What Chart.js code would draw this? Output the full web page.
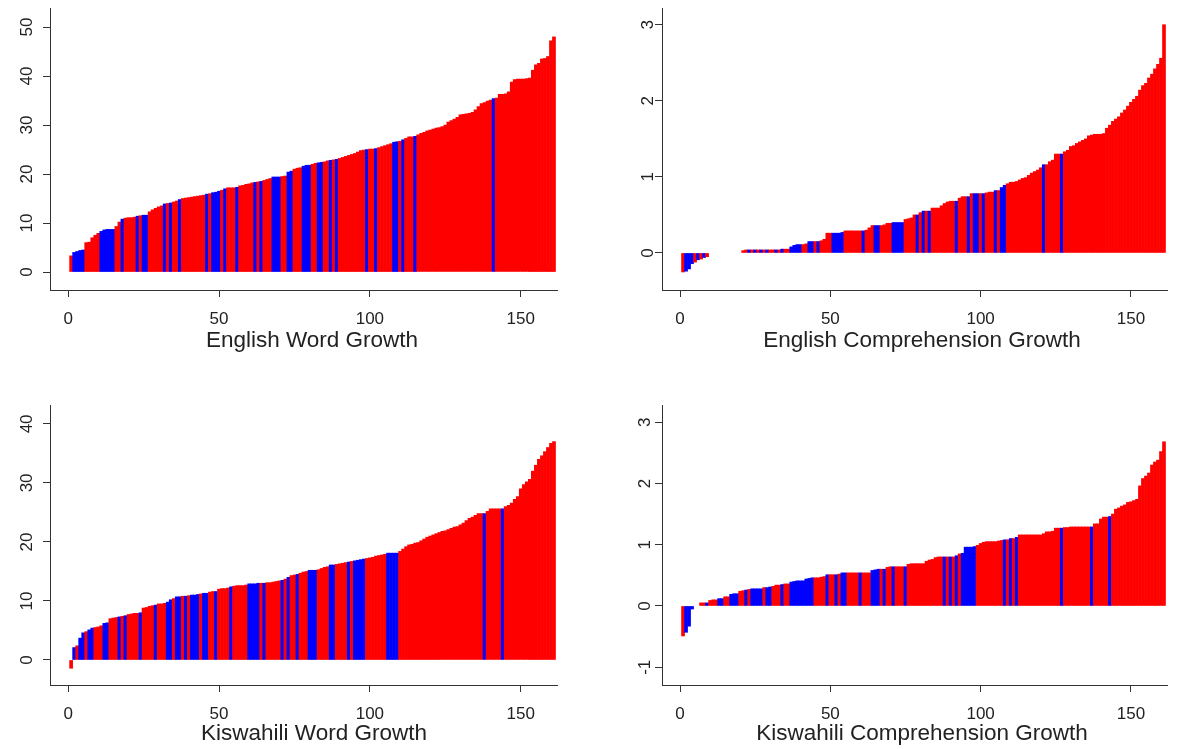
<!DOCTYPE html>
<html>
<head>
<meta charset="utf-8">
<script src="https://cdn.jsdelivr.net/npm/chart.js@4.4.1/dist/chart.umd.min.js"></script>
<style>
  body { margin: 0; background: #fff; width: 1184px; height: 749px; position: relative; overflow: hidden; font-family: Arial, "Liberation Sans", sans-serif; }
  canvas { position: absolute; }
  .titulo { position: absolute; font-size: 22.5px; color: #222; transform: translateX(-50%); white-space: nowrap; line-height: 26px; }
</style>
</head>
<body>
<canvas id="c1" width="592" height="374" style="left:0;top:0"></canvas>
<canvas id="c2" width="592" height="374" style="left:592px;top:0"></canvas>
<canvas id="c3" width="592" height="375" style="left:0;top:374px"></canvas>
<canvas id="c4" width="592" height="375" style="left:592px;top:374px"></canvas>
<div class="titulo" style="left:312px;top:327px">English Word Growth</div>
<div class="titulo" style="left:922px;top:327px">English Comprehension Growth</div>
<div class="titulo" style="left:314px;top:720px">Kiswahili Word Growth</div>
<div class="titulo" style="left:922px;top:720px">Kiswahili Comprehension Growth</div>
<script>
// Datos (valores ordenados por rango 1..161; null = sin barra)
const ingPalabras = [
    3.3, 4.0, 4.2, 4.4, 4.5, 6.0, 6.1, 7.0, 7.5, 7.9,
    8.3, 8.6, 8.7, 8.7, 8.7, 9.3, 10.2, 10.8, 11.0, 11.1,
    11.1, 11.2, 11.4, 11.5, 11.6, 11.6, 12.3, 12.7, 13.0, 13.3,
    13.5, 13.9, 14.0, 14.1, 14.3, 14.5, 14.8, 15.0, 15.1, 15.2,
    15.3, 15.4, 15.5, 15.6, 15.7, 15.9, 16.0, 16.2, 16.3, 16.5,
    16.7, 17.0, 17.2, 17.2, 17.2, 17.3, 17.6, 17.7, 17.9, 18.0,
    18.2, 18.3, 18.4, 18.5, 18.7, 18.9, 19.1, 19.4, 19.4, 19.4,
    19.5, 19.6, 20.4, 20.6, 21.0, 21.2, 21.3, 21.6, 21.8, 21.8,
    22.0, 22.2, 22.3, 22.4, 22.5, 22.7, 22.8, 22.9, 23.0, 23.2,
    23.4, 23.6, 23.8, 24.0, 24.2, 24.5, 24.8, 24.9, 25.0, 25.1,
    25.1, 25.2, 25.4, 25.6, 25.8, 26.0, 26.2, 26.5, 26.6, 26.7,
    27.0, 27.3, 27.6, 27.6, 27.7, 28.0, 28.3, 28.5, 28.8, 29.0,
    29.2, 29.4, 29.5, 29.7, 30.0, 30.6, 30.9, 31.2, 31.6, 32.1,
    32.2, 32.3, 32.4, 32.6, 33.1, 33.8, 34.4, 34.6, 34.9, 35.1,
    35.4, 35.5, 36.3, 36.3, 36.4, 36.8, 38.8, 39.3, 39.4, 39.4,
    39.4, 39.5, 39.6, 41.2, 42.3, 42.6, 43.5, 43.6, 44.0, 47.2,
    48.0
];
const ingPalabrasAzul = [2, 3, 4, 5, 11, 12, 13, 14, 15, 18, 23, 25, 26, 32, 34, 37, 46, 48, 49, 50, 52,
    56, 62, 64, 68, 69, 70, 73, 74, 78, 79, 80, 83, 84, 87, 89, 99, 102, 108, 109, 111, 115, 141];

const ingComprension = [
    -0.25, -0.24, -0.21, -0.14, -0.12, -0.09, -0.08, -0.06, -0.05, null,
    null, null, null, null, null, null, null, null, null, null,
    0.03, 0.04, 0.04, 0.04, 0.04, 0.04, 0.04, 0.04, 0.04, 0.04,
    0.04, 0.04, 0.04, 0.05, 0.05, 0.05, 0.08, 0.10, 0.11, 0.11,
    0.11, 0.12, 0.15, 0.15, 0.15, 0.15, 0.16, 0.18, 0.26, 0.26,
    0.26, 0.26, 0.26, 0.27, 0.29, 0.29, 0.29, 0.29, 0.29, 0.29,
    0.29, 0.30, 0.33, 0.36, 0.36, 0.36, 0.36, 0.37, 0.39, 0.39,
    0.40, 0.40, 0.40, 0.40, 0.44, 0.45, 0.46, 0.50, 0.50, 0.53,
    0.55, 0.55, 0.55, 0.59, 0.59, 0.59, 0.62, 0.65, 0.67, 0.68,
    0.68, 0.68, 0.72, 0.74, 0.74, 0.74, 0.78, 0.78, 0.78, 0.78,
    0.78, 0.79, 0.80, 0.80, 0.82, 0.82, 0.86, 0.89, 0.91, 0.93,
    0.93, 0.94, 0.96, 0.98, 0.99, 1.02, 1.05, 1.07, 1.09, 1.12,
    1.16, 1.16, 1.20, 1.22, 1.30, 1.30, 1.30, 1.33, 1.35, 1.40,
    1.41, 1.44, 1.46, 1.48, 1.50, 1.54, 1.55, 1.56, 1.56, 1.56,
    1.57, 1.64, 1.68, 1.73, 1.76, 1.79, 1.84, 1.88, 1.93, 1.98,
    2.02, 2.06, 2.14, 2.20, 2.23, 2.30, 2.35, 2.42, 2.48, 2.56,
    3.00
];
const ingComprensionAzul = [2, 3, 4, 6, 8, 23, 25, 27, 29, 32, 34, 37, 38, 39, 40, 43, 44, 46, 51, 52, 53, 54,
    61, 65, 66, 71, 72, 73, 74, 79, 81, 83, 92, 96, 98, 99, 101, 105, 107, 108, 121, 127];

const kisPalabras = [
    -1.4, 2.1, 2.4, 3.7, 4.6, 4.8, 5.1, 5.4, 5.5, 5.6,
    5.8, 6.2, 6.3, 7.0, 7.1, 7.2, 7.3, 7.4, 7.5, 7.7,
    7.8, 7.9, 7.9, 8.0, 8.8, 8.9, 9.1, 9.2, 9.3, 9.5,
    9.5, 9.6, 9.8, 10.2, 10.4, 10.7, 10.7, 10.8, 10.8, 10.9,
    11.0, 11.0, 11.1, 11.2, 11.3, 11.3, 11.5, 11.6, 11.6, 12.0,
    12.1, 12.1, 12.2, 12.4, 12.5, 12.6, 12.6, 12.6, 12.7, 12.9,
    12.9, 12.9, 13.0, 13.0, 13.0, 13.1, 13.1, 13.2, 13.3, 13.4,
    13.5, 13.7, 14.0, 14.3, 14.4, 14.5, 14.7, 14.9, 15.0, 15.2,
    15.2, 15.2, 15.3, 15.5, 15.7, 15.8, 16.1, 16.1, 16.2, 16.3,
    16.4, 16.5, 16.6, 16.7, 16.8, 16.9, 17.0, 17.1, 17.2, 17.3,
    17.4, 17.6, 17.7, 17.8, 17.9, 18.1, 18.1, 18.1, 18.1, 18.4,
    18.8, 19.2, 19.5, 19.6, 19.8, 19.9, 20.2, 20.5, 20.8, 21.0,
    21.2, 21.4, 21.6, 21.8, 21.9, 22.1, 22.3, 22.5, 22.6, 22.9,
    23.2, 23.6, 24.0, 24.2, 24.5, 24.8, 24.8, 24.8, 25.2, 25.6,
    25.6, 25.6, 25.6, 25.6, 26.0, 26.2, 26.6, 27.2, 27.7, 29.0,
    29.7, 30.2, 30.6, 32.0, 33.0, 34.0, 34.6, 35.3, 36.0, 36.7,
    37.0
];
const kisPalabrasAzul = [2, 4, 5, 7, 8, 12, 13, 17, 19, 24, 29, 33, 34, 36, 37, 39, 41, 42, 43, 45, 46, 49,
    54, 60, 61, 62, 63, 65, 71, 73, 76, 80, 81, 82, 87, 88, 93, 95, 96, 97, 98, 106, 107, 108, 109, 138, 144];

const kisComprension = [
    -0.49, -0.43, -0.33, -0.05, null, null, 0.05, 0.05, 0.05, 0.09,
    0.10, 0.10, 0.12, 0.12, 0.15, 0.15, 0.19, 0.20, 0.20, 0.24,
    0.25, 0.26, 0.27, 0.28, 0.28, 0.28, 0.28, 0.30, 0.30, 0.31,
    0.32, 0.34, 0.34, 0.35, 0.36, 0.36, 0.39, 0.40, 0.41, 0.41,
    0.41, 0.44, 0.45, 0.46, 0.46, 0.46, 0.47, 0.48, 0.51, 0.51,
    0.51, 0.51, 0.52, 0.54, 0.54, 0.54, 0.54, 0.54, 0.54, 0.54,
    0.54, 0.54, 0.54, 0.58, 0.59, 0.60, 0.60, 0.60, 0.63, 0.64,
    0.64, 0.64, 0.64, 0.64, 0.64, 0.68, 0.69, 0.69, 0.69, 0.69,
    0.69, 0.73, 0.75, 0.76, 0.79, 0.80, 0.80, 0.80, 0.80, 0.80,
    0.80, 0.82, 0.85, 0.86, 0.96, 0.96, 0.96, 0.97, 0.99, 1.02,
    1.04, 1.05, 1.05, 1.05, 1.05, 1.06, 1.07, 1.08, 1.08, 1.10,
    1.10, 1.12, 1.16, 1.16, 1.16, 1.16, 1.16, 1.16, 1.16, 1.16,
    1.18, 1.21, 1.21, 1.22, 1.27, 1.27, 1.27, 1.28, 1.28, 1.29,
    1.29, 1.29, 1.29, 1.29, 1.29, 1.29, 1.29, 1.34, 1.34, 1.42,
    1.45, 1.45, 1.46, 1.50, 1.58, 1.60, 1.63, 1.65, 1.69, 1.70,
    1.72, 1.74, 1.96, 2.08, 2.12, 2.17, 2.30, 2.35, 2.38, 2.52,
    2.68
];
const kisComprensionAzul = [2, 3, 4, 9, 13, 14, 17, 18, 19, 22, 24, 25, 26, 27, 29, 30, 34, 37, 38, 39, 40, 41,
    42, 43, 44, 49, 52, 54, 55, 60, 64, 65, 66, 68, 71, 75, 88, 90, 92, 94, 95, 96, 97, 98, 108, 110, 112, 127, 137, 143];

// Ticks
const xTicks = [0, 50, 100, 150];
const yTicksPalabrasIng = [0, 10, 20, 30, 40, 50];
const yTicksComprensionIng = [0, 1, 2, 3];
const yTicksPalabrasKis = [0, 10, 20, 30, 40];
const yTicksComprensionKis = [-1, 0, 1, 2, 3];

// Rangos (posición de cada barra en el eje x)
const rangos = ingPalabras.map((_, i) => i + 1);

const ROJO = '#ff0000';
const AZUL = '#0000ff';
const EJE = '#333333';
const TEXTO = '#222222';
const FUENTE = 'Arial, "Liberation Sans", sans-serif';

function crearPanel(id, valores, azules, yTicks, cfg) {
    const colores = rangos.map(r => azules.includes(r) ? AZUL : ROJO);
    new Chart(document.getElementById(id), {
        type: 'bar',
        data: {
            labels: rangos,
            datasets: [{
                data: valores,
                backgroundColor: colores,
                borderWidth: 0,
                barPercentage: 1,
                categoryPercentage: 1
            }]
        },
        options: {
            responsive: false,
            animation: false,
            layout: { padding: { left: 0, top: cfg.top, right: cfg.w - cfg.right, bottom: 0 } },
            plugins: { legend: { display: false }, tooltip: { enabled: false } },
            scales: {
                x: {
                    type: 'linear',
                    min: -6,
                    max: 162,
                    offset: false,
                    afterBuildTicks: s => { s.ticks = xTicks.map(v => ({ value: v })); },
                    afterFit: s => {
                        s.height = cfg.h - cfg.bottom;
                        s.paddingLeft = 0;
                        s.paddingRight = 0;
                    },
                    grid: { display: true, offset: false, drawOnChartArea: false, drawTicks: true, tickLength: 7, color: EJE },
                    border: { display: true, color: EJE, width: 1 },
                    ticks: { font: { size: 17, family: FUENTE }, color: TEXTO, padding: 12, maxRotation: 0, autoSkip: false }
                },
                y: {
                    type: 'linear',
                    min: cfg.ymin,
                    max: cfg.ymax,
                    afterBuildTicks: s => { s.ticks = yTicks.map(v => ({ value: v })); },
                    afterFit: s => {
                        s.width = cfg.left;
                        s.paddingTop = 0;
                        s.paddingBottom = 0;
                    },
                    grid: { display: true, offset: false, drawOnChartArea: false, drawTicks: true, tickLength: 7, color: EJE },
                    border: { display: true, color: EJE, width: 1 },
                    ticks: { font: { size: 17, family: FUENTE }, color: TEXTO, padding: cfg.pad, minRotation: 90, maxRotation: 90, crossAlign: 'center' }
                }
            }
        }
    });
}

crearPanel('c1', ingPalabras, ingPalabrasAzul, yTicksPalabrasIng,
    { w: 592, h: 374, left: 50, right: 557, top: 8, bottom: 290, ymin: -3.67, ymax: 53.9, pad: 6 });
crearPanel('c2', ingComprension, ingComprensionAzul, yTicksComprensionIng,
    { w: 592, h: 374, left: 70, right: 575, top: 8, bottom: 290, ymin: -0.487, ymax: 3.22, pad: 2 });
crearPanel('c3', kisPalabras, kisPalabrasAzul, yTicksPalabrasKis,
    { w: 592, h: 375, left: 50, right: 557, top: 31, bottom: 311, ymin: -4.24, ymax: 43.2, pad: 6 });
crearPanel('c4', kisComprension, kisComprensionAzul, yTicksComprensionKis,
    { w: 592, h: 375, left: 70, right: 575, top: 31, bottom: 311, ymin: -1.29, ymax: 3.28, pad: 2 });
</script>
</body>
</html>
